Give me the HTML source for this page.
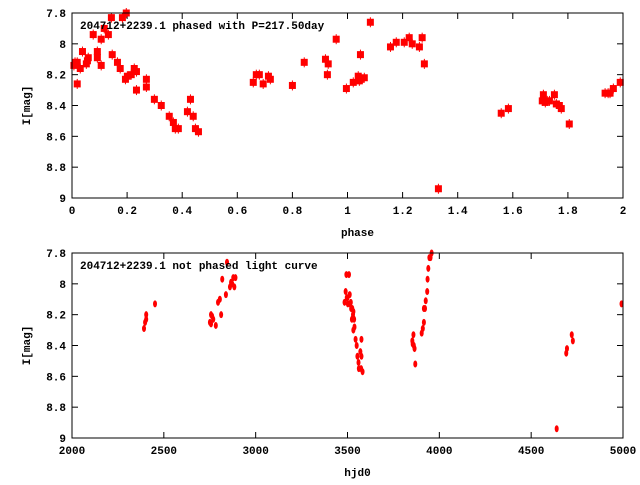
<!DOCTYPE html>
<html><head><meta charset="utf-8"><style>
body{margin:0;background:#fff}
svg text{font-family:"Liberation Mono",monospace;font-weight:bold;font-size:11px;fill:#000}
</style></head><body>
<svg id="c" width="640" height="480"></svg>
<script>
const phaseVals=[0.007,0.011,0.019,0.019,0.030,0.038,0.052,0.056,0.059,0.077,0.092,0.092,0.106,0.106,0.117,0.132,0.143,0.146,0.165,0.175,0.183,0.197,0.194,0.201,0.215,0.226,0.234,0.234,0.270,0.270,0.299,0.324,0.353,0.368,0.375,0.386,0.419,0.430,0.440,0.448,0.459,0.658,0.669,0.680,0.694,0.713,0.720,0.800,0.843,0.920,0.927,0.930,0.959,0.996,1.021,1.039,1.043,1.047,1.061,1.047,1.083,1.156,1.177,1.206,1.224,1.235,1.261,1.271,1.279,1.330,1.558,1.584,1.707,1.711,1.718,1.725,1.733,1.751,1.758,1.769,1.776,1.805,1.935,1.946,1.953,1.965,1.990];
const phaseMags=[8.14,8.12,8.12,8.26,8.16,8.05,8.13,8.11,8.09,7.94,8.05,8.09,7.97,8.14,7.90,7.94,7.83,8.07,8.12,8.16,7.83,7.80,8.23,8.21,8.20,8.16,8.18,8.30,8.23,8.28,8.36,8.40,8.47,8.51,8.55,8.55,8.44,8.36,8.47,8.55,8.57,8.25,8.20,8.20,8.26,8.21,8.23,8.27,8.12,8.10,8.20,8.13,7.97,8.29,8.25,8.21,8.24,8.07,8.22,8.23,7.86,8.02,7.99,7.99,7.96,8.00,8.02,7.96,8.13,8.94,8.45,8.42,8.37,8.33,8.38,8.37,8.37,8.33,8.39,8.40,8.42,8.52,8.32,8.32,8.32,8.29,8.25];
const hjdVals=[2392,2398,2404,2404,2452,2751,2757,2757,2763,2769,2783,2795,2805,2812,2818,2838,2844,2860,2866,2872,2878,2884,2890,3484,3490,3494,3496,3500,3502,3508,3512,3514,3518,3520,3524,3526,3530,3532,3532,3536,3538,3544,3550,3554,3560,3562,3570,3576,3576,3574,3582,3853,3859,3855,3861,3865,3869,3904,3910,3916,3916,3922,3926,3934,3936,3940,3946,3952,3958,4639,4691,4695,4721,4727,4992];
const hjdMags=[8.29,8.25,8.23,8.20,8.13,8.25,8.20,8.26,8.21,8.23,8.27,8.12,8.10,8.20,7.97,8.07,7.86,8.02,7.99,8.00,7.96,8.02,7.96,8.12,8.05,7.94,8.09,8.09,8.13,7.94,8.07,8.13,8.12,8.16,8.23,8.16,8.20,8.18,8.30,8.23,8.28,8.36,8.40,8.47,8.51,8.55,8.44,8.36,8.47,8.55,8.57,8.37,8.33,8.39,8.40,8.42,8.52,8.32,8.29,8.25,8.16,8.16,8.11,8.05,7.97,7.90,7.83,7.83,7.80,8.94,8.45,8.42,8.33,8.37,8.13];
const yTicks=["7.8","8","8.2","8.4","8.6","8.8","9"];
const phaseTicks=["0","0.2","0.4","0.6","0.8","1","1.2","1.4","1.6","1.8","2"];
const hjdTicks=["2000","2500","3000","3500","4000","4500","5000"];
const NS="http://www.w3.org/2000/svg";
const svg=document.getElementById('c');
function mk(t,a,p){const e=document.createElementNS(NS,t);for(const k in a)e.setAttribute(k,a[k]);(p||svg).appendChild(e);return e;}
function panel(top,xmin,xmax,xt,xs,ys,title,xlabel,kind,name){
  const L=72,R=623,T=top,B=top+185;
  const g=mk('g',{});
  
  
  const sx=v=>L+(v-xmin)/(xmax-xmin)*(R-L);
  const sy=v=>T+(v-7.8)/1.2*(B-T);
  xt.forEach(t=>{const x=sx(+t);
    mk('line',{x1:x,y1:B,x2:x,y2:B-6,stroke:'#000'},g);mk('line',{x1:x,y1:T,x2:x,y2:T+6,stroke:'#000'},g);
    const tx=mk('text',{x:x,y:B+16,'text-anchor':'middle'},g);tx.textContent=t;
    
    });
  yTicks.forEach(t=>{const y=sy(+t);
    mk('line',{x1:L,y1:y,x2:L+6,y2:y,stroke:'#000'},g);mk('line',{x1:R,y1:y,x2:R-6,y2:y,stroke:'#000'},g);
    const tx=mk('text',{x:L-6,y:y+4,'text-anchor':'end'},g);tx.textContent=t;
    
    });
  xs.forEach((v,i)=>{const x=sx(v),y=sy(ys[i]);let m;
    if(kind==='sq'){mk('line',{x1:x,y1:y-5,x2:x,y2:y+5,stroke:'#f00'},g);m=mk('rect',{x:x-3.5,y:y-3.5,width:7,height:7,fill:'#f00'},g);}
    else m=mk('ellipse',{cx:x,cy:y,rx:2,ry:3.5,fill:'#f00'},g);
    
    });
  const f=mk('rect',{x:L,y:T,width:R-L,height:B-T,fill:'none',stroke:'#000'},g);
  
  
  const ti=mk('text',{x:80,y:T+16,'font-size':'12'},g);ti.textContent=title;
  
  
  const xl=mk('text',{x:(L+R)/2+10,y:B+38,'text-anchor':'middle','font-size':'12'},g);xl.textContent=xlabel;
  
  
  const yl=mk('text',{x:0,y:0,'text-anchor':'middle','font-size':'12',transform:`translate(30,${(T+B)/2}) rotate(-90)`},g);yl.textContent='I[mag]';
  
  
}
panel(13,0,2,phaseTicks,phaseVals,phaseMags,'204712+2239.1 phased with P=217.50day','phase','sq','phased-panel');
panel(253,2000,5000,hjdTicks,hjdVals,hjdMags,'204712+2239.1 not phased light curve','hjd0','el','light-curve-panel');
</script>
</body></html>
